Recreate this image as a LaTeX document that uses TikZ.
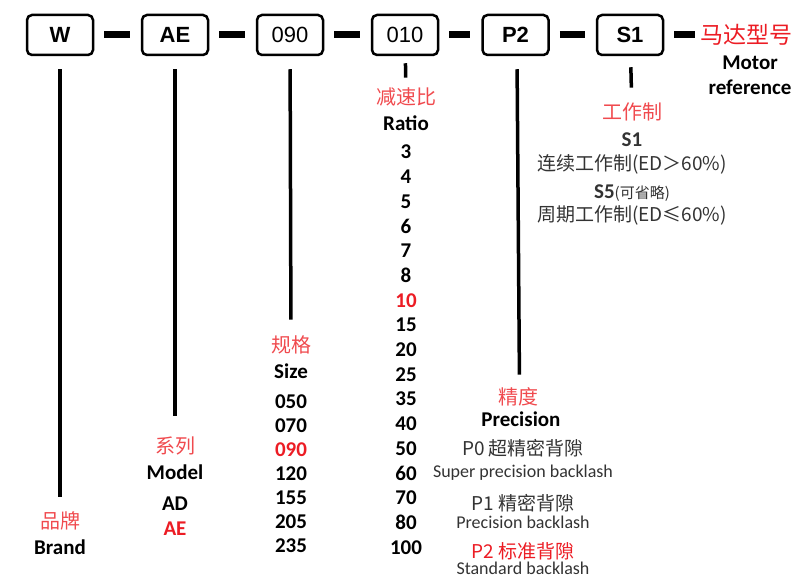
\documentclass[tikz,border=0pt]{standalone}
\usepackage{fontspec}
\setmainfont{Carlito}
\newfontfamily\cjk{Noto Sans CJK SC}
\newfontfamily\boxfont{Liberation Sans}
\usetikzlibrary{positioning}
\definecolor{codered}{HTML}{EC1C24}
\definecolor{labelred}{HTML}{F04A4E}
\definecolor{textgray}{HTML}{333333}

\begin{document}
\begin{tikzpicture}[x=1pt,y=-1pt,
  codebox/.style={draw, line width=2.5pt, rounded corners=5pt, minimum width=66pt,
    minimum height=40pt, inner sep=0pt, font=\boxfont\fontsize{22}{24}\selectfont},
  joiner/.style={line width=7pt, shorten <=10pt, shorten >=11pt},
  stem/.style={line width=3.5pt},
  cnlabel/.style={inner sep=1pt, text=labelred, font=\cjk\fontsize{20}{22}\selectfont},
  enlabel/.style={inner sep=1pt, font=\bfseries\fontsize{21}{23}\selectfont},
  desc/.style={inner sep=1pt, text=textgray, font=\cjk\fontsize{19}{21}\selectfont},
  engdesc/.style={inner sep=1pt, text=textgray, font=\fontsize{18}{20}\selectfont}]
\useasboundingbox (0,0) rectangle (797,580);

% Code boxes
\node[codebox] (brand) at (60,35) {\bfseries W};
\node[codebox] (model) at (175,35) {\bfseries AE};
\node[codebox] (size) at (290,35) {090};
\node[codebox] (ratio) at (405,35) {010};
\node[codebox] (prec) at (515.5,35) {\bfseries P2};
\node[codebox] (duty) at (630,35) {\bfseries S1};
\node[cnlabel, text=codered, font=\cjk\fontsize{23}{25}\selectfont] (motorcn) at (746,35) {马达型号};
\node[enlabel] (motoren) at (750,63) {Motor};
\node[enlabel] (motorref) at (750,87) {reference};

% Joiners
\draw[joiner] (brand) -- (model);
\draw[joiner] (model) -- (size);
\draw[joiner] (size) -- (ratio);
\draw[joiner] (ratio) -- (prec);
\draw[joiner] (prec) -- (duty);
\draw[joiner, shorten >=4pt] (duty) -- (motorcn);

% Brand
\node[cnlabel] (brandcn) at (60,521) {品牌};
\node[enlabel] (branden) at (60,547) {Brand};
\draw[stem, shorten <=13pt, shorten >=14pt] (brand) -- (brandcn);

% Model
\node[cnlabel] (modelcn) at (175,446) {系列};
\node[enlabel] (modelen) at (175,472) {Model};
\node[enlabel] (modelad) at (175,504) {AD};
\node[enlabel, text=codered] (modelae) at (175,529) {AE};
\draw[stem, shorten <=13pt, shorten >=20pt] (model) -- (modelcn);

% Size
\node[cnlabel] (sizecn) at (291,345) {规格};
\node[enlabel] (sizeen) at (291,371) {Size};
\foreach \val/\col [count=\i from 0] in {050/black,070/black,090/codered,120/black,155/black,205/black,235/black}
  \node[enlabel, text=\col] (size\i) at (291,402+24*\i) {\val};
\draw[stem, shorten <=13pt, shorten >=15pt] (size) -- (sizecn);

% Ratio
\node[cnlabel] (ratiocn) at (406,97) {减速比};
\node[enlabel] (ratioen) at (406,123) {Ratio};
\foreach \val/\col [count=\i from 0] in {3/black,4/black,5/black,6/black,7/black,8/black,10/codered,15/black,20/black,25/black,35/black,40/black,50/black,60/black,70/black,80/black,100/black}
  \node[enlabel, text=\col] (ratio\i) at (406,152+24.7*\i) {\val};
\draw[stem, shorten <=7pt, shorten >=9pt] (ratio) -- (ratiocn);

% Precision
\node[cnlabel] (preccn) at (518,397) {精度};
\node[enlabel] (precen) at (521,419) {Precision};
\node[desc] (preczero) at (523,448) {P0 超精密背隙};
\node[engdesc] (preczeroen) at (523,473) {Super precision backlash};
\node[desc] (precone) at (523,503) {P1 精密背隙};
\node[engdesc] (preconeen) at (523,522) {Precision backlash};
\node[desc, text=codered] (prectwo) at (523,551) {P2 标准背隙};
\node[engdesc] (prectwoen) at (523,568) {Standard backlash};
\draw[stem, shorten <=13pt, shorten >=12pt] ([xshift=1.5pt]prec.south) -- ([xshift=1.5pt]preccn.north);

% Duty
\node[cnlabel] (dutycn) at (632,112) {工作制};
\node[enlabel, text=textgray] (dutyone) at (632,140) {S1};
\node[desc] (dutyonecn) at (632,164) {连续工作制(ED＞60\%)};
\node[enlabel, text=textgray] (dutyfive) at (632,193) {S5{\cjk\mdseries\fontsize{15}{17}\selectfont(可省略)}};
\node[desc] (dutyfivecn) at (632,215) {周期工作制(ED≤60\%)};
\draw[stem, shorten <=11pt, shorten >=14pt] (duty) -- (dutycn);
\end{tikzpicture}
\end{document}
